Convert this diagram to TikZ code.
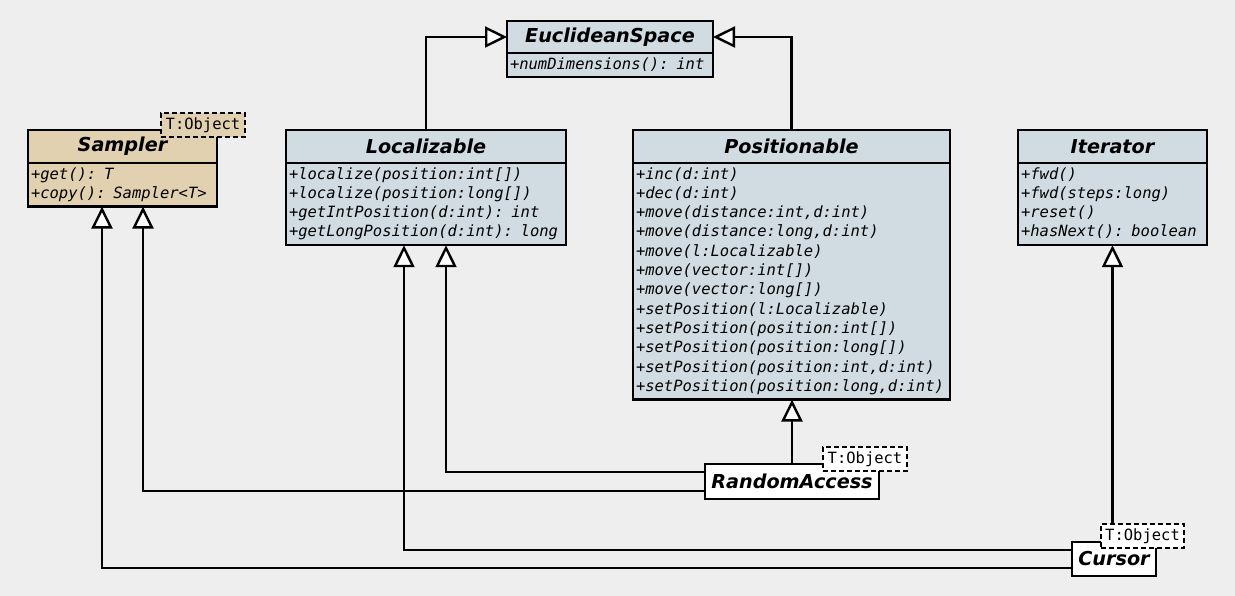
\documentclass[tikz,border=0pt]{standalone}
\usepackage{fontspec}
\setmainfont{DejaVu Sans}
\setmonofont{DejaVu Sans Mono}
\usetikzlibrary{arrows.meta}
\definecolor{bgc}{HTML}{EEEEEE}
\definecolor{clsc}{HTML}{D0DCE2}
\definecolor{tanc}{HTML}{E2D1B0}
\tikzset{
  every node/.style={outer sep=0pt},
  hdr/.style={draw, fill=clsc, line width=2.4pt, anchor=north west, inner sep=0pt,
    minimum height=33pt, font=\fontsize{19.2}{22}\selectfont\bfseries\itshape},
  body/.style={draw, fill=clsc, line width=2.4pt, anchor=north west, inner xsep=3pt,
    inner ysep=2.5pt, align=left, font=\fontsize{15.5}{19.3}\selectfont\ttfamily\itshape},
  tpl/.style={draw, dash pattern=on 5pt off 3pt, fill=white, line width=2.4pt, inner sep=0pt,
    anchor=north west, minimum width=84pt, minimum height=24pt,
    font=\fontsize{15.5}{19.3}\selectfont\ttfamily},
  leaf/.style={draw, fill=white, line width=2.4pt, anchor=north west, inner sep=0pt,
    font=\fontsize{19.2}{22}\selectfont\bfseries\itshape},
  gen/.style={line width=2.4pt, -{Triangle[fill=white, length=22pt, width=21pt]}},
}
\begin{document}
\begin{tikzpicture}[x=1pt, y=-1pt]
\path[use as bounding box, fill=bgc] (0,0) rectangle (1235,596);

% EuclideanSpace
\node[hdr, minimum width=206pt, minimum height=32pt] (euc) at (507,21) {EuclideanSpace};
\node[body, text width=200pt] (eucb) at (euc.south west) {\strut+numDimensions(): int};

% Sampler
\node[hdr, fill=tanc, minimum width=189pt] (sam) at (28,130) {Sampler};
\node[body, fill=tanc, text width=183pt] (samb) at (sam.south west)
  {\strut+get(): T\\\strut+copy(): Sampler<T>};
\node[tpl, fill=tanc] (stpl) at (161,113) {T:Object};

% Localizable
\node[hdr, minimum width=280pt] (loc) at (286,130) {Localizable};
\node[body, text width=274pt] (locb) at (loc.south west)
  {\strut+localize(position:int[])\\
   \strut+localize(position:long[])\\
   \strut+getIntPosition(d:int): int\\
   \strut+getLongPosition(d:int): long};

% Positionable
\node[hdr, minimum width=317pt] (pos) at (633,130) {Positionable};
\node[body, text width=311pt] (posb) at (pos.south west)
  {\strut+inc(d:int)\\
   \strut+dec(d:int)\\
   \strut+move(distance:int,d:int)\\
   \strut+move(distance:long,d:int)\\
   \strut+move(l:Localizable)\\
   \strut+move(vector:int[])\\
   \strut+move(vector:long[])\\
   \strut+setPosition(l:Localizable)\\
   \strut+setPosition(position:int[])\\
   \strut+setPosition(position:long[])\\
   \strut+setPosition(position:int,d:int)\\
   \strut+setPosition(position:long,d:int)};

% Iterator
\node[hdr, minimum width=189pt] (itr) at (1018,130) {Iterator};
\node[body, text width=183pt] (itb) at (itr.south west)
  {\strut+fwd()\\
   \strut+fwd(steps:long)\\
   \strut+reset()\\
   \strut+hasNext(): boolean};

% RandomAccess
\node[leaf, minimum width=174pt, minimum height=35pt] (ra) at (705,464) {RandomAccess};
\node[tpl] (ratpl) at (823,447) {T:Object};

% Cursor
\node[leaf, minimum width=84pt, minimum height=34pt] (cur) at (1072,542) {Cursor};
\node[tpl, minimum width=83pt] (ctpl) at (1101,524) {T:Object};

% generalisations
\draw[gen] (loc.north) |- (euc.west);
\draw[gen] (pos.north) |- (euc.east);
\draw[gen] (ra.north) -- (ra.north |- posb.south);
\draw[gen] ([yshift=9.5pt]ra.west) -| ([xshift=20pt]locb.south);
\draw[gen] ([yshift=-9.5pt]ra.west) -| ([xshift=20.5pt]samb.south);
\draw[gen] ([yshift=9pt]cur.west) -| ([xshift=-22pt]locb.south);
\draw[gen] ([yshift=-9pt]cur.west) -| ([xshift=-20.5pt]samb.south);
\draw[gen] (ctpl.north -| itb.south) -- (itb.south);
\end{tikzpicture}
\end{document}
